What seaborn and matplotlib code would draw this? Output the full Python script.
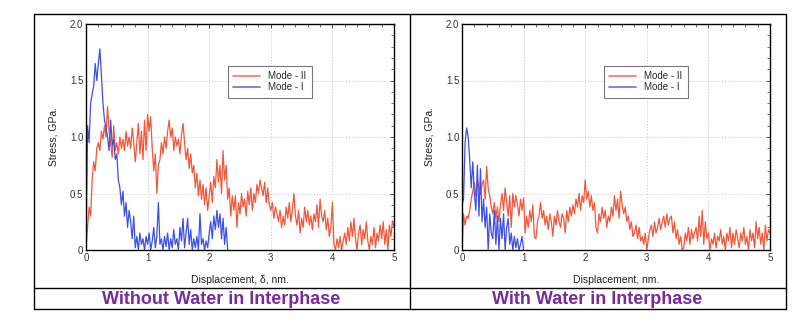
import numpy as np
import pandas as pd
import seaborn as sns
import matplotlib
matplotlib.use("Agg")
import matplotlib.pyplot as plt
from matplotlib.lines import Line2D
from matplotlib.ticker import MultipleLocator, FixedLocator

# ---------------- data ----------------
step = 0.025  # displacement sampling, nm

dry_mode2 = [
    0.00, 0.20, 0.38, 0.30, 0.62, 0.78, 0.70, 0.90,
    0.95, 0.88, 1.05, 0.98, 1.10, 1.00, 1.27, 1.05,
    0.95, 0.82, 1.10, 0.88, 0.95, 0.85, 1.00, 0.90,
    0.98, 0.88, 1.05, 0.92, 1.00, 0.90, 1.08, 0.95,
    0.78, 0.95, 1.12, 0.85, 1.05, 0.80, 1.15, 0.88,
    1.20, 1.05, 1.18, 0.90, 0.70, 0.85, 0.50, 0.75,
    0.80, 0.95, 0.85, 1.00, 0.90, 1.05, 1.15, 1.00,
    1.08, 0.88, 1.00, 0.92, 0.98, 0.85, 1.02, 1.12,
    0.95, 0.80, 0.90, 0.72, 0.85, 0.68, 0.75, 0.55,
    0.68, 0.48, 0.62, 0.45, 0.58, 0.40, 0.55, 0.35,
    0.48, 0.60, 0.42, 0.65, 0.55, 0.80, 0.60, 0.75,
    0.50, 0.88, 0.62, 0.75, 0.45, 0.55, 0.30, 0.48,
    0.35, 0.48, 0.20, 0.42, 0.32, 0.50, 0.38, 0.45,
    0.30, 0.52, 0.40, 0.55, 0.35, 0.50, 0.42, 0.58,
    0.50, 0.62, 0.55, 0.48, 0.60, 0.42, 0.55, 0.40,
    0.35, 0.42, 0.28, 0.38, 0.32, 0.25, 0.35, 0.20,
    0.30, 0.22, 0.38, 0.28, 0.42, 0.25, 0.35, 0.50,
    0.30, 0.22, 0.35, 0.15, 0.28, 0.20, 0.38, 0.25,
    0.35, 0.22, 0.30, 0.18, 0.32, 0.25, 0.40, 0.20,
    0.45, 0.30, 0.25, 0.35, 0.18, 0.28, 0.12, 0.20,
    0.42, 0.05, 0.00, 0.10, 0.02, 0.12, 0.00, 0.08,
    0.15, 0.05, 0.20, 0.08, 0.25, 0.12, 0.28, 0.10,
    0.00, 0.15, 0.22, 0.05, 0.18, 0.10, 0.25, 0.08,
    0.00, 0.12, 0.05, 0.20, 0.02, 0.15, 0.08, 0.22,
    0.10, 0.25, 0.05, 0.18, 0.00, 0.22, 0.12, 0.26,
    0.20,
]

dry_mode1 = [
    0.00, 1.10, 0.95, 1.30, 1.38, 1.45, 1.65, 1.50,
    1.65, 1.78, 1.55, 1.30, 1.15, 1.08, 1.00, 0.88,
    1.15, 0.92, 0.98, 0.80, 0.85, 0.62, 0.55, 0.40,
    0.52, 0.30, 0.42, 0.20, 0.35, 0.25, 0.10, 0.30,
    0.02, 0.12, 0.00, 0.15, 0.05, 0.10, 0.00, 0.12,
    0.05, 0.15, 0.00, 0.08, 0.20, 0.02, 0.12, 0.42,
    0.05, 0.10, 0.00, 0.12, 0.03, 0.15, 0.00, 0.10,
    0.02, 0.18, 0.05, 0.10, 0.00, 0.20, 0.08, 0.28,
    0.02, 0.15, 0.28, 0.05, 0.18, 0.00, 0.10, 0.02,
    0.12, 0.00, 0.32, 0.05, 0.10, 0.00, 0.08, 0.02,
    0.15, 0.25, 0.10, 0.30, 0.18, 0.35, 0.20, 0.32,
    0.10, 0.28, 0.05, 0.20, 0.00,
]

wet_mode2 = [
    0.00, 0.32, 0.22, 0.30, 0.28, 0.35, 0.45, 0.52,
    0.60, 0.48, 0.62, 0.55, 0.50, 0.58, 0.62, 0.45,
    0.74, 0.55, 0.48, 0.38, 0.32, 0.42, 0.28, 0.38,
    0.25, 0.40, 0.50, 0.35, 0.55, 0.42, 0.30, 0.48,
    0.20, 0.50, 0.38, 0.48, 0.40, 0.30, 0.45, 0.35,
    0.46, 0.15, 0.30, 0.20, 0.35, 0.25, 0.40, 0.12,
    0.10, 0.25, 0.30, 0.42, 0.28, 0.35, 0.22, 0.30,
    0.18, 0.32, 0.25, 0.12, 0.30, 0.22, 0.35, 0.25,
    0.20, 0.32, 0.28, 0.15, 0.35, 0.25, 0.38, 0.30,
    0.40, 0.32, 0.45, 0.38, 0.50, 0.35, 0.48, 0.42,
    0.62, 0.45, 0.52, 0.38, 0.48, 0.35, 0.42, 0.20,
    0.15, 0.32, 0.25, 0.38, 0.28, 0.35, 0.20, 0.30,
    0.25, 0.38, 0.30, 0.48, 0.35, 0.45, 0.28, 0.52,
    0.40, 0.32, 0.38, 0.25, 0.30, 0.18, 0.25, 0.12,
    0.15, 0.22, 0.10, 0.20, 0.08, 0.12, 0.05, 0.15,
    0.00, 0.10, 0.18, 0.22, 0.12, 0.25, 0.15, 0.20,
    0.28, 0.18, 0.25, 0.30, 0.20, 0.32, 0.22, 0.28,
    0.30, 0.15, 0.25, 0.10, 0.18, 0.05, 0.12, 0.00,
    0.02, 0.15, 0.08, 0.20, 0.05, 0.18, 0.10, 0.15,
    0.20, 0.08, 0.30, 0.12, 0.35, 0.05, 0.25, 0.10,
    0.15, 0.00, 0.10, 0.05, 0.15, 0.02, 0.12, 0.08,
    0.18, 0.05, 0.12, 0.00, 0.15, 0.08, 0.20, 0.02,
    0.15, 0.05, 0.18, 0.10, 0.02, 0.15, 0.08, 0.20,
    0.05, 0.12, 0.00, 0.18, 0.08, 0.15, 0.02, 0.25,
    0.10, 0.20, 0.05, 0.15, 0.00, 0.22, 0.08, 0.18,
    0.15,
]

wet_mode1 = [
    0.40, 0.45, 0.95, 1.08, 1.00, 0.80, 0.55, 0.78,
    0.50, 0.35, 0.75, 0.30, 0.72, 0.25, 0.45, 0.20,
    0.38, 0.00, 0.32, 0.15, 0.10, 0.35, 0.05, 0.30,
    0.00, 0.28, 0.10, 0.32, 0.00, 0.20, 0.28, 0.05,
    0.15, 0.00, 0.12, 0.02, 0.10, 0.00, 0.05, 0.12,
    0.00,
]

modes = ["Mode - II", "Mode - I"]
x_ticks = [0, 1, 2, 3, 4, 5]
y_ticks = [0, 0.5, 1.0, 1.5, 2.0]
y_ticklabels = ["0", "0.5", "1.0", "1.5", "2.0"]
panel_titles = ["Without Water in Interphase", "With Water in Interphase"]
x_labels = ["Displacement, δ, nm.", "Displacement, nm."]
y_label = "Stress, GPa."


def make_df(m2, m1):
    d2 = pd.DataFrame({"disp": np.arange(len(m2)) * step, "stress": m2, "mode": modes[0]})
    d1 = pd.DataFrame({"disp": np.arange(len(m1)) * step, "stress": m1, "mode": modes[1]})
    return pd.concat([d2, d1], ignore_index=True)


frames = [make_df(dry_mode2, dry_mode1), make_df(wet_mode2, wet_mode1)]

# ---------------- figure ----------------
sns.set_theme(style="white")
plt.rcParams["font.family"] = ["Liberation Sans", "DejaVu Sans"]

W, H = 800, 329
fig = plt.figure(figsize=(8.0, 3.29), dpi=100)
fig.patch.set_facecolor("white")

palette = {"Mode - II": "#f0583c", "Mode - I": "#3d4fe6"}

ax_lefts = [86, 462]
for i, df in enumerate(frames):
    ax = fig.add_axes([ax_lefts[i] / W, (H - 250) / H, 308 / W, 226 / H])
    sns.lineplot(data=df, x="disp", y="stress", hue="mode", hue_order=modes,
                 palette=palette, linewidth=0.9, ax=ax, estimator=None, sort=False)
    ax.set_xlim(0, 5)
    ax.set_ylim(0, 2.0)
    ax.xaxis.set_major_locator(FixedLocator(x_ticks))
    ax.yaxis.set_major_locator(FixedLocator(y_ticks))
    ax.set_yticklabels(y_ticklabels)
    ax.xaxis.set_minor_locator(MultipleLocator(0.2))
    ax.yaxis.set_minor_locator(MultipleLocator(0.1))
    ax.tick_params(which="both", direction="in", top=True, right=True,
                   labelsize=7, colors="#333333", pad=2)
    ax.tick_params(which="major", length=3, width=0.6)
    ax.tick_params(which="minor", length=2, width=0.5)
    for s in ax.spines.values():
        s.set_visible(True)
        s.set_color("black")
        s.set_linewidth(1.0)
    ax.grid(True, which="major", linestyle=(0, (1, 2)), color="#c4c4c4", linewidth=0.7)
    ax.set_xlabel(x_labels[i], fontsize=7.5, labelpad=9, color="#222222")
    ax.set_ylabel(y_label, fontsize=7.5, labelpad=8, color="#222222")
    leg = ax.legend(loc="upper left", bbox_to_anchor=(0.461, 0.814), fontsize=7,
                    frameon=True, fancybox=False, borderpad=0.55, borderaxespad=0,
                    handlelength=2.7, handletextpad=0.9, labelspacing=0.1)
    leg.get_frame().set_edgecolor("#555555")
    leg.get_frame().set_linewidth(0.8)
    for line in leg.get_lines():
        line.set_linewidth(1.2)
        line.set_alpha(0.8)

# ---------------- table borders ----------------
def fx(px):
    return px / W


def fy(py):
    return 1 - py / H


border = dict(color="black", linewidth=1.0, transform=fig.transFigure)
fig.add_artist(Line2D([fx(34), fx(786)], [fy(14), fy(14)], **border))
fig.add_artist(Line2D([fx(34), fx(786)], [fy(288), fy(288)], **border))
fig.add_artist(Line2D([fx(34), fx(786)], [fy(309), fy(309)], **border))
fig.add_artist(Line2D([fx(34), fx(34)], [fy(14), fy(309)], **border))
fig.add_artist(Line2D([fx(410), fx(410)], [fy(14), fy(309)], **border))
fig.add_artist(Line2D([fx(786), fx(786)], [fy(14), fy(309)], **border))

title_x = [221, 597]
for i, t in enumerate(panel_titles):
    fig.text(fx(title_x[i]), fy(299), t, ha="center", va="center",
             fontsize=13, fontweight="bold", color="#7b2a9b")

fig.savefig("out.png", dpi=100, facecolor="white")
